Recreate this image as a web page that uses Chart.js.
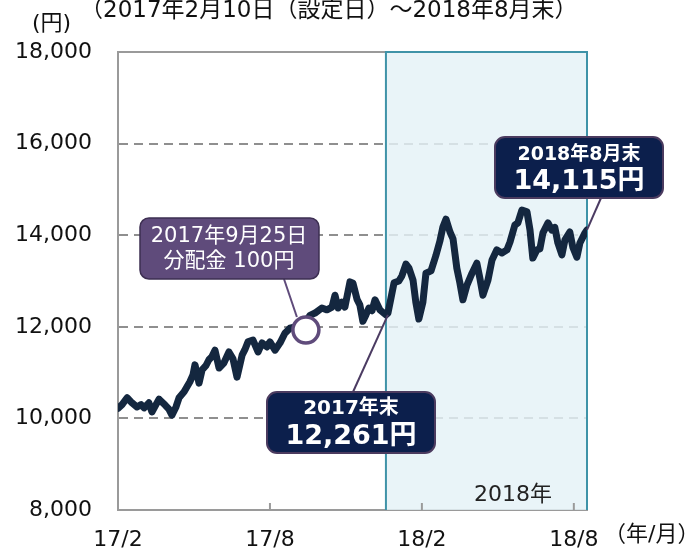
<!DOCTYPE html>
<html>
<head>
<meta charset="utf-8">
<script src="https://cdn.jsdelivr.net/npm/chart.js@4"></script>
<style>
  html, body { margin: 0; padding: 0; background: #fff; }
  #wrap { width: 692px; height: 551px; position: relative; }
</style>
</head>
<body>
<div id="wrap"><canvas id="navChart" width="692" height="551"></canvas></div>
<script>
// x position in months from 2017/2 (17/2 = 0, 18/8 = 18)
const navX = [
  0, 0.16, 0.36, 0.55, 0.75, 0.91, 1.03, 1.22, 1.34, 1.5, 1.62, 1.86, 2.01, 2.13, 2.29, 2.41,
  2.61, 2.84, 2.96, 3.04, 3.2, 3.32, 3.47, 3.59, 3.71, 3.83, 3.99, 4.18, 4.38, 4.54, 4.7, 4.9,
  5.01, 5.13, 5.33, 5.53, 5.69, 5.88, 6.0, 6.2, 6.4, 6.59, 6.79, 6.99, 7.19, 7.38, 7.58, 7.78,
  8.05, 8.25, 8.45, 8.57, 8.69, 8.84, 8.96, 9.16, 9.28, 9.44, 9.55, 9.67, 9.79, 9.91, 10.03,
  10.15, 10.34, 10.58, 10.66, 10.78, 10.9, 11.09, 11.21, 11.37, 11.49, 11.65, 11.76, 11.88,
  12.04, 12.16, 12.36, 12.55, 12.71, 12.83, 12.95, 13.11, 13.23, 13.38, 13.5, 13.62, 13.78,
  13.98, 14.17, 14.29, 14.41, 14.61, 14.77, 14.96, 15.16, 15.36, 15.48, 15.67, 15.79, 15.95,
  16.15, 16.27, 16.38, 16.54, 16.66, 16.78, 16.98, 17.13, 17.25, 17.37, 17.53, 17.65, 17.84,
  17.96, 18.12, 18.24, 18.44, 18.52
];
// 基準価額（円）
const navY = [
  10220, 10300, 10450, 10340, 10250, 10300, 10230, 10340, 10140, 10300, 10420, 10290, 10200, 10070, 10250, 10450,
  10580, 10800, 10950, 11170, 10770, 11060, 11150, 11280, 11350, 11490, 11100, 11210, 11450, 11300, 10900, 11380,
  11500, 11670, 11710, 11450, 11650, 11560, 11670, 11490, 11650, 11860, 11970, 12000, 11990, 12080, 12250, 12300,
  12410, 12370, 12430, 12690, 12410, 12540, 12430, 12980, 12950, 12600, 12480, 12120, 12260, 12410, 12350,
  12590, 12370, 12261, 12300, 12630, 12960, 13000, 13110, 13370, 13280, 13020, 12540, 12170,
  12540, 13170, 13220, 13550, 13870, 14180, 14350, 14070, 13920, 13280, 12960, 12590, 12910,
  13170, 13390, 13060, 12690, 13020, 13460, 13680, 13610, 13680, 13850, 14220, 14270, 14550,
  14510, 14110, 13500, 13680, 13700, 14050, 14270, 14110, 14170, 13830, 13570, 13900, 14070,
  13740, 13520, 13830, 14050, 14115
];

const xTickVals = [0, 6, 12, 18];
const xTickLabels = ["17/2", "17/8", "18/2", "18/8"];
const shadeStart = 10.58;   // 2018年
const xMax = 18.52;

const distX = 7.42;          // 2017年9月25日
const distY = 11930;
const endOf2017 = 12261;
const endOfAug2018 = 14115;

const FONT = '"DejaVu Sans", "Noto Sans CJK JP", sans-serif';

const decor = {
  id: "decor",
  beforeDatasetsDraw(chart) {
    const { ctx, chartArea: a, scales: { x } } = chart;
    const sx = x.getPixelForValue(shadeStart);
    ctx.save();
    ctx.fillStyle = "rgba(228,242,247,0.82)";
    ctx.fillRect(sx, a.top, a.right - sx, a.bottom - a.top);
    // top border (white part)
    ctx.strokeStyle = "#9a9a9a";
    ctx.lineWidth = 2;
    ctx.beginPath();
    ctx.moveTo(a.left, a.top);
    ctx.lineTo(sx, a.top);
    ctx.stroke();
    // shaded box border
    ctx.strokeStyle = "#3f93a8";
    ctx.lineWidth = 2;
    ctx.beginPath();
    ctx.moveTo(sx, a.bottom);
    ctx.lineTo(sx, a.top);
    ctx.lineTo(a.right, a.top);
    ctx.lineTo(a.right, a.bottom);
    ctx.stroke();
    // small ticks on the bottom axis
    ctx.strokeStyle = "#9a9a9a";
    xTickVals.slice(1).forEach(v => {
      const px = x.getPixelForValue(v);
      ctx.beginPath();
      ctx.moveTo(px, a.bottom);
      ctx.lineTo(px, a.bottom - 7);
      ctx.stroke();
    });
    ctx.fillStyle = "#222";
    ctx.font = "22px " + FONT;
    ctx.textAlign = "center";
    ctx.textBaseline = "middle";
    ctx.fillText("2018年", 513, 495);
    ctx.restore();
  },
  afterDraw(chart) {
    const { ctx, scales: { x, y } } = chart;
    ctx.save();

    function box(l, t, r, b, rad, fill, stroke, sw) {
      ctx.beginPath();
      ctx.roundRect(l, t, r - l, b - t, rad);
      ctx.fillStyle = fill;
      ctx.fill();
      ctx.lineWidth = sw;
      ctx.strokeStyle = stroke;
      ctx.stroke();
    }
    function line(x1, y1, x2, y2, color) {
      ctx.beginPath();
      ctx.moveTo(x1, y1);
      ctx.lineTo(x2, y2);
      ctx.lineWidth = 2;
      ctx.strokeStyle = color;
      ctx.stroke();
    }
    ctx.textAlign = "center";
    ctx.textBaseline = "middle";

    // 分配金 callout
    line(284, 279, x.getPixelForValue(distX) - 9, y.getPixelForValue(distY) - 13, "#5f4b7b");
    box(140, 218, 319, 279, 9, "#5f4b7b", "#3d2f52", 1.5);
    ctx.fillStyle = "#fff";
    ctx.font = "21px " + FONT;
    ctx.fillText("2017年9月25日", 229, 237);
    ctx.fillText("分配金 100円", 229, 262);

    // 2017年末 callout
    line(353, 392, x.getPixelForValue(shadeStart) + 2, y.getPixelForValue(endOf2017), "#4b3b62");
    box(267, 392, 435, 453, 10, "#0c1f4c", "#4b3b5f", 2);
    ctx.fillStyle = "#fff";
    ctx.font = "bold 20px " + FONT;
    ctx.fillText("2017年末", 351, 409);
    ctx.font = "bold 27px " + FONT;
    ctx.fillText("12,261円", 351, 437);

    // 2018年8月末 callout
    line(601, 198, x.getPixelForValue(xMax), y.getPixelForValue(endOfAug2018), "#4b3b62");
    box(495, 137, 663, 198, 10, "#0c1f4c", "#4b3b5f", 2);
    ctx.fillStyle = "#fff";
    ctx.font = "bold 19px " + FONT;
    ctx.fillText("2018年8月末", 579, 155);
    ctx.font = "bold 27px " + FONT;
    ctx.fillText("14,115円", 579, 182);

    // titles
    ctx.fillStyle = "#111";
    ctx.textAlign = "left";
    ctx.font = "23px " + FONT;
    ctx.fillText("（2017年2月10日（設定日）～2018年8月末）", 80, 11);
    ctx.font = "22px " + FONT;
    ctx.fillText("(円)", 32, 24);
    ctx.fillText("（年/月）", 604, 535);
    ctx.restore();
  }
};

new Chart(document.getElementById("navChart").getContext("2d"), {
  type: "line",
  data: {
    datasets: [
      {
        data: [{ x: distX, y: distY }],
        showLine: false,
        pointRadius: 13,
        pointBorderWidth: 3.5,
        pointBackgroundColor: "#fff",
        pointBorderColor: "#5f4b7b",
        order: 0
      },
      {
        data: navX.map((v, i) => ({ x: v, y: navY[i] })),
        borderColor: "#14273f",
        borderWidth: 7,
        borderJoinStyle: "round",
        borderCapStyle: "round",
        pointRadius: 0,
        tension: 0,
        order: 1
      }
    ]
  },
  options: {
    responsive: false,
    animation: false,
    layout: { padding: { left: 0, top: 52, right: 105, bottom: 0 } },
    plugins: { legend: { display: false }, tooltip: { enabled: false } },
    scales: {
      x: {
        type: "linear",
        min: 0,
        max: xMax,
        afterFit: s => { s.height = 41; },
        afterBuildTicks: s => { s.ticks = xTickVals.map(v => ({ value: v })); },
        grid: { display: false },
        border: { display: true, color: "#9a9a9a", width: 2 },
        ticks: {
          autoSkip: false,
          maxRotation: 0,
          padding: 9,
          color: "#111",
          font: { family: FONT, size: 22 },
          callback: v => xTickLabels[xTickVals.indexOf(v)]
        }
      },
      y: {
        min: 8000,
        max: 18000,
        afterFit: s => { s.width = 118; },
        grid: {
          drawTicks: false,
          lineWidth: 2,
          color: c => (c.tick && (c.tick.value === 8000 || c.tick.value === 18000)) ? "rgba(0,0,0,0)" : "#8f8f8f"
        },
        border: { display: true, color: "#9a9a9a", width: 2, dash: [9, 6] },
        ticks: {
          stepSize: 2000,
          padding: 26,
          color: "#111",
          font: { family: FONT, size: 22 },
          callback: v => v.toLocaleString("en-US")
        }
      }
    }
  },
  plugins: [decor]
});
</script>
</body>
</html>
